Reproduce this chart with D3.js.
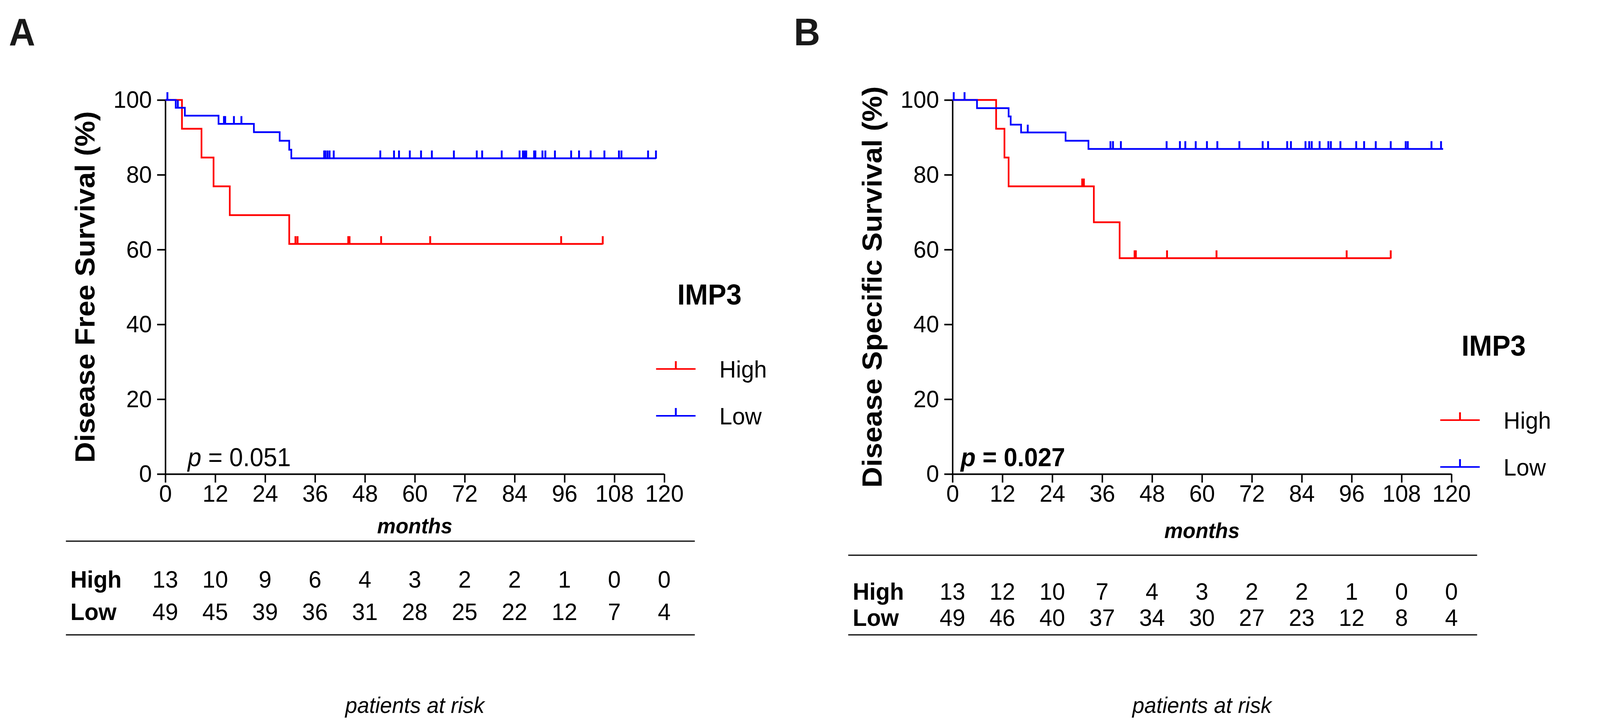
<!DOCTYPE html>
<html>
<head>
<meta charset="utf-8">
<script src="https://cdn.jsdelivr.net/npm/d3@7"></script>
<style>
  html, body { margin: 0; padding: 0; background: #fff; overflow: hidden; }
  svg { display: block; }
  text { font-family: "Liberation Sans", Arial, Helvetica, sans-serif; }
</style>
</head>
<body>
<div id="chart"></div>
<script>
var width = 4297,
    height = 1862;

// shared axis ticks
var monthTicks = [0, 12, 24, 36, 48, 60, 72, 84, 96, 108, 120];
var survTicks = [0, 20, 40, 60, 80, 100];
var groups = ["High", "Low"];

// Panel A - disease free survival, [month, survival %] at each step
var dfsHighSteps = [[0, 100], [4.0, 92.3], [8.7, 84.6], [11.6, 76.9], [15.5, 69.2], [29.8, 61.5]];
var dfsHighEnd = 105.2;
var dfsHighCensor = [31.3, 31.8, 44.0, 44.3, 51.9, 63.7, 95.2, 105.2];
var dfsLowSteps = [[0, 100], [2.5, 97.9], [4.7, 95.8], [12.8, 93.6], [21.3, 91.4], [27.5, 89.1], [29.8, 86.7], [30.3, 84.4]];
var dfsLowEnd = 118;
var dfsLowCensor = [0.5, 3.0, 14.1, 14.4, 16.5, 18.3, 38.2, 38.5, 39.0, 39.5, 40.5, 51.7, 55.0, 56.2, 58.8,
                    61.5, 64.1, 69.4, 74.9, 76.2, 80.9, 85.2, 86.0, 86.4, 86.8, 88.7, 89.0, 90.7, 91.4, 93.7,
                    97.6, 99.5, 102.3, 105.6, 109.1, 109.7, 116.1, 118];
var dfsRiskHigh = [13, 10, 9, 6, 4, 3, 2, 2, 1, 0, 0];
var dfsRiskLow = [49, 45, 39, 36, 31, 28, 25, 22, 12, 7, 4];

// Panel B - disease specific survival
var dssHighSteps = [[0, 100], [10.5, 92.3], [12.5, 84.6], [13.5, 76.9], [34.0, 67.3], [40.2, 57.7]];
var dssHighEnd = 105.4;
var dssHighCensor = [31.2, 31.6, 43.8, 44.1, 51.6, 63.5, 94.8, 105.4];
var dssLowSteps = [[0, 100], [5.9, 97.8], [13.5, 95.6], [14.0, 93.4], [16.5, 91.3], [27.2, 89.1], [32.7, 86.9]];
var dssLowEnd = 118;
var dssLowCensor = [0.3, 2.9, 18.1, 38.0, 38.6, 40.5, 51.5, 54.7, 56.0, 58.5, 61.2, 63.7, 69.0, 74.6, 75.9,
                    80.5, 81.4, 84.9, 85.8, 86.4, 88.3, 90.4, 91.0, 93.3, 97.1, 99.0, 101.8, 105.4,
                    109.0, 109.5, 115.2, 117.5];
var dssRiskHigh = [13, 12, 10, 7, 4, 3, 2, 2, 1, 0, 0];
var dssRiskLow = [49, 46, 40, 37, 34, 30, 27, 23, 12, 8, 4];

var colors = { High: "#ff0000", Low: "#0000ff" };

// fit the drawing to whatever the window really is
var viewW = document.documentElement.clientWidth || window.innerWidth || width,
    viewH = window.innerHeight || height;

var svg = d3.select("#chart").append("svg")
    .attr("width", viewW)
    .attr("height", viewH)
    .attr("viewBox", "0 0 " + width + " " + height)
    .attr("preserveAspectRatio", "none");

svg.append("rect")
    .attr("width", width)
    .attr("height", height)
    .attr("fill", "#fff");

function survAt(steps, t) {
    var s = steps[0][1];
    steps.forEach(function(d) { if (d[0] <= t) s = d[1]; });
    return s;
}

function drawPanel(p) {
    var g = svg.append("g");

    var x = d3.scaleLinear().domain([0, 120]).range([p.left, p.left + 1340]);
    var y = d3.scaleLinear().domain([0, 100]).range([1214, 256]);

    // panel letter
    g.append("text")
        .attr("x", p.letterX)
        .attr("y", 116)
        .attr("font-size", 98)
        .attr("font-weight", "bold")
        .attr("fill", "#1a1a1a")
        .text(p.letter);

    // axes
    var yAxis = g.append("g")
        .attr("transform", "translate(" + p.left + ",0)")
        .call(d3.axisLeft(y).tickValues(survTicks).tickSize(22).tickSizeOuter(0).tickPadding(14));
    var xAxis = g.append("g")
        .attr("transform", "translate(0," + y(0) + ")")
        .call(d3.axisBottom(x).tickValues(monthTicks).tickSize(22).tickSizeOuter(0).tickPadding(5));

    [yAxis, xAxis].forEach(function(a) {
        a.selectAll("path, line").attr("stroke", "#000").attr("stroke-width", 4);
        a.selectAll("text").attr("font-size", 62).attr("fill", "#000")
            .attr("font-family", "'Liberation Sans', Arial, sans-serif");
    });

    // y label
    g.append("text")
        .attr("transform", "translate(" + (p.left - 190) + "," + ((y(0) + y(100)) / 2) + ") rotate(-90)")
        .attr("text-anchor", "middle")
        .attr("font-size", 74)
        .attr("font-weight", "bold")
        .text(p.yLabel);

    // survival curves
    var line = d3.line()
        .x(function(d) { return x(d[0]); })
        .y(function(d) { return y(d[1]); })
        .curve(d3.curveStepAfter);

    p.series.forEach(function(s) {
        var pts = s.steps.concat([[s.end, s.steps[s.steps.length - 1][1]]]);
        g.append("path")
            .datum(pts)
            .attr("d", line)
            .attr("fill", "none")
            .attr("stroke", colors[s.name])
            .attr("stroke-width", 4.5);

        g.selectAll(null)
            .data(s.censor)
            .enter().append("line")
            .attr("x1", function(t) { return x(t); })
            .attr("x2", function(t) { return x(t); })
            .attr("y1", function(t) { return y(survAt(s.steps, t)) + 1; })
            .attr("y2", function(t) { return y(survAt(s.steps, t)) - 20; })
            .attr("stroke", colors[s.name])
            .attr("stroke-width", 5);
    });

    // p value
    var pt = g.append("text")
        .attr("x", p.pX)
        .attr("y", y(0) - 20)
        .attr("font-size", 66)
        .attr("font-weight", p.pBold ? "bold" : "normal");
    pt.append("tspan").attr("font-style", "italic").text("p");
    pt.append("tspan").text(" = " + p.pValue);

    // legend
    g.append("text")
        .attr("x", p.legX + 57)
        .attr("y", p.legY)
        .attr("font-size", 74)
        .attr("font-weight", "bold")
        .text("IMP3");
    groups.forEach(function(name, i) {
        var ly = p.legY + 165 + i * 120;
        g.append("line")
            .attr("x1", p.legX).attr("x2", p.legX + 106)
            .attr("y1", ly).attr("y2", ly)
            .attr("stroke", colors[name]).attr("stroke-width", 4);
        g.append("line")
            .attr("x1", p.legX + 53).attr("x2", p.legX + 53)
            .attr("y1", ly).attr("y2", ly - 20)
            .attr("stroke", colors[name]).attr("stroke-width", 5);
        g.append("text")
            .attr("x", p.legX + 170)
            .attr("y", ly + 22)
            .attr("font-size", 62)
            .text(name);
    });

    // months label
    g.append("text")
        .attr("x", x(60))
        .attr("y", p.monthsY)
        .attr("text-anchor", "middle")
        .attr("font-size", 56)
        .attr("font-weight", "bold")
        .attr("font-style", "italic")
        .text("months");

    // patients at risk table
    g.append("line")
        .attr("x1", p.tableX1).attr("x2", p.tableX2)
        .attr("y1", p.tableTop).attr("y2", p.tableTop)
        .attr("stroke", "#000").attr("stroke-width", 3);
    g.append("line")
        .attr("x1", p.tableX1).attr("x2", p.tableX2)
        .attr("y1", p.tableBottom).attr("y2", p.tableBottom)
        .attr("stroke", "#000").attr("stroke-width", 3);

    [p.riskHigh, p.riskLow].forEach(function(row, i) {
        var ry = p.rowY[i];
        g.append("text")
            .attr("x", p.tableX1 + 12)
            .attr("y", ry)
            .attr("font-size", 62)
            .attr("font-weight", "bold")
            .text(groups[i]);
        g.selectAll(null)
            .data(row)
            .enter().append("text")
            .attr("x", function(d, j) { return x(monthTicks[j]); })
            .attr("y", ry)
            .attr("text-anchor", "middle")
            .attr("font-size", 62)
            .text(function(d) { return d; });
    });

    g.append("text")
        .attr("x", x(60))
        .attr("y", 1826)
        .attr("text-anchor", "middle")
        .attr("font-size", 58)
        .attr("font-style", "italic")
        .text("patients at risk");
}

drawPanel({
    letter: "A", letterX: 24, left: 444,
    yLabel: "Disease Free Survival (%)",
    series: [
        { name: "High", steps: dfsHighSteps, end: dfsHighEnd, censor: dfsHighCensor },
        { name: "Low", steps: dfsLowSteps, end: dfsLowEnd, censor: dfsLowCensor }
    ],
    pValue: "0.051", pBold: false, pX: 504,
    legX: 1762, legY: 780,
    monthsY: 1366,
    tableX1: 177, tableX2: 1866, tableTop: 1386, tableBottom: 1626,
    rowY: [1505, 1588],
    riskHigh: dfsRiskHigh, riskLow: dfsRiskLow
});

drawPanel({
    letter: "B", letterX: 2132, left: 2558,
    yLabel: "Disease Specific Survival (%)",
    series: [
        { name: "High", steps: dssHighSteps, end: dssHighEnd, censor: dssHighCensor },
        { name: "Low", steps: dssLowSteps, end: dssLowEnd, censor: dssLowCensor }
    ],
    pValue: "0.027", pBold: true, pX: 2580,
    legX: 3868, legY: 911,
    monthsY: 1378,
    tableX1: 2278, tableX2: 3967, tableTop: 1422, tableBottom: 1626,
    rowY: [1536, 1603],
    riskHigh: dssRiskHigh, riskLow: dssRiskLow
});
</script>
</body>
</html>
